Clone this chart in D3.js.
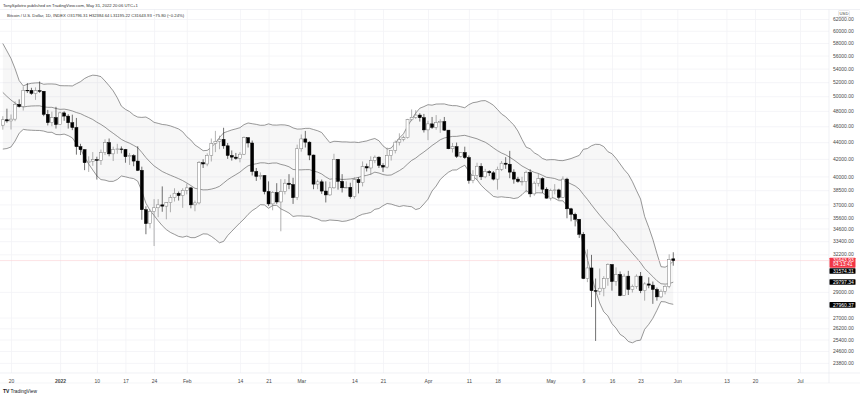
<!DOCTYPE html>
<html>
<head>
<meta charset="utf-8">
<script src="https://cdn.jsdelivr.net/npm/d3@7"></script>
<style>
  body { margin: 0; background: #fff; }
  svg { display: block; font-family: "Liberation Sans", Arial, sans-serif; }
</style>
</head>
<body>
<div id="chart"></div>
<script>
// daily candles start here, one per day
const firstDay = '2021-12-18';

// closes before the first visible candle, only used for the bands
const priorCloses = [57806, 56950, 57184, 56480, 53601, 49152, 49397, 50441, 50588, 50471,
  47545, 47140, 49389, 50053, 46702, 48343, 48864, 47632, 46131];

const opens = [
  // Dec 18-31
  46131, 46834, 46681, 46914, 48890, 48588, 50838, 50820, 50399, 50775, 50701, 47543, 46464, 47120,
  // Jan
  46216, 47738, 47311, 46446, 45832, 43451, 43082, 41558, 41734, 41912, 41822, 42735, 43949, 42591, 43099, 43177,
  43113, 42250, 42375, 41744, 40680, 36457, 35075, 36276, 36654, 36954, 36822, 37185, 37716, 38170, 37917,
  // Feb
  38480, 38743, 36952, 37154, 41554, 41406, 42407, 43850, 44092, 44346, 43555, 42400, 42205, 42054, 42550, 44550,
  43900, 40550, 40000, 40100, 38350, 37050, 38250, 37250, 38350, 39250, 39100, 37700,
  // Mar
  43200, 44400, 44000, 42450, 39150, 39400, 38400, 37990, 38750, 41950, 39450, 38750, 38800, 37800, 39650, 39300,
  41100, 40950, 41800, 42200, 41250, 41050, 42400, 43000, 44000, 44350, 44550, 46850, 47150, 47450, 47100,
  // Apr
  45530, 46300, 45850, 46450, 46600, 45500, 43200, 43450, 42300, 42750, 42150, 39550, 40100, 41150, 39950, 40550,
  40400, 39700, 40800, 41500, 41380, 40480, 39700, 39450, 39450, 40450, 38100, 39250, 39750, 38600,
  // May
  37650, 38470, 38520, 37730, 39700, 36550, 36000, 35500, 34050, 30100, 31000, 29100, 29050, 29300, 30100, 31300,
  29850, 30450, 28700, 30300, 29200, 29450, 30300, 29100, 29650, 29550, 29200, 28600, 29050, 29450, 31796.31
];
const highs = [
  47300, 48300, 47530, 49300, 49570, 51380, 51850, 51190, 51250, 52100, 50700, 48140, 47900, 48550,
  47900, 47950, 47560, 47500, 47070, 43800, 43150, 42300, 42800, 42250, 43100, 44350, 44450, 43450, 43800, 43480,
  43180, 42700, 42550, 43500, 41100, 36800, 36500, 37550, 37550, 38900, 37200, 38000, 38700, 38350, 38700,
  39200, 38850, 37400, 41750, 41950, 42650, 44450, 45400, 44800, 45800, 43900, 43000, 42700, 42800, 44700, 44600,
  44200, 40950, 40450, 40150, 39450, 38400, 39250, 39700, 39700, 40250, 39850, 43700,
  44950, 45400, 44100, 42500, 39650, 39650, 39450, 39400, 42600, 42000, 40250, 39450, 39300, 39900, 39900, 41700,
  41450, 42300, 42400, 42300, 41500, 43350, 43000, 44200, 45100, 44800, 46950, 48200, 48100, 47700, 47600,
  46700, 47200, 47450, 46900, 47200, 45500, 43900, 43950, 42800, 43450, 42400, 40700, 41550, 41500, 40850, 40700,
  40600, 41100, 41750, 42200, 42950, 40800, 39950, 39950, 40650, 40800, 39450, 40350, 39900, 38800,
  38650, 39150, 38650, 40000, 39850, 36650, 36150, 35500, 34250, 32650, 32150, 30100, 30950, 30300, 31400, 31300,
  31050, 30700, 30500, 30750, 29600, 30450, 30650, 29800, 30200, 29850, 29350, 29200, 29550, 32200, 32384.64
];
const lows = [
  45560, 46450, 45580, 46650, 48450, 48050, 50450, 50200, 49500, 50470, 47300, 46100, 46000, 45700,
  46200, 46700, 45700, 45500, 42500, 42450, 40700, 40500, 41200, 39650, 41300, 42450, 42300, 41750, 42600, 42650,
  41550, 41300, 41150, 40600, 35450, 34050, 34620, 32950, 35700, 36250, 35500, 36200, 37300, 37400, 36650,
  38050, 36600, 36300, 37000, 40950, 41150, 41700, 42800, 43150, 43200, 42000, 41800, 41900, 41600, 42450, 43350,
  40100, 39500, 39650, 38050, 36850, 36400, 37050, 34330, 38050, 38600, 37050, 37450,
  42850, 43350, 41850, 38600, 38600, 38100, 37200, 37900, 38650, 38550, 38250, 38700, 37600, 37600, 38150, 38900,
  40550, 40150, 41500, 40950, 40500, 40900, 41800, 42650, 43600, 44100, 44450, 46650, 46950, 46600, 45200,
  44250, 45650, 45550, 45150, 45400, 43150, 42750, 42100, 42150, 42000, 39200, 39250, 39600, 39600, 39800, 40050,
  39550, 38550, 40600, 40850, 39800, 39200, 39300, 39000, 38250, 37750, 37900, 38900, 38200, 37600,
  37400, 38050, 37500, 37700, 35600, 35300, 34800, 33700, 30050, 29800, 27800, 25300, 28750, 28650, 29500, 29100,
  29500, 28650, 28700, 28750, 28950, 29250, 28900, 28300, 29300, 28050, 28300, 28500, 28800, 29300, 31195.22
];
const closes = [
  46834, 46681, 46914, 48890, 48588, 50838, 50820, 50399, 50775, 50701, 47543, 46464, 47120, 46216,
  47738, 47311, 46446, 45832, 43451, 43082, 41558, 41734, 41912, 41822, 42735, 43949, 42591, 43099, 43177, 43113,
  42250, 42375, 41744, 40680, 36457, 35075, 36276, 36654, 36954, 36822, 37185, 37716, 38170, 37917, 38480,
  38743, 36952, 37154, 41554, 41406, 42407, 43850, 44092, 44346, 43555, 42400, 42205, 42054, 42550, 44550, 43900,
  40550, 40000, 40100, 38350, 37050, 38250, 37250, 38350, 39250, 39100, 37700, 43200,
  44400, 44000, 42450, 39150, 39400, 38400, 37990, 38750, 41950, 39450, 38750, 38800, 37800, 39650, 39300, 41100,
  40950, 41800, 42200, 41250, 41050, 42400, 43000, 44000, 44350, 44550, 46850, 47150, 47450, 47100, 45530,
  46300, 45850, 46450, 46600, 45500, 43200, 43450, 42300, 42750, 42150, 39550, 40100, 41150, 39950, 40550, 40400,
  39700, 40800, 41500, 41380, 40480, 39700, 39450, 39450, 40450, 38100, 39250, 39750, 38600, 37650,
  38470, 38520, 37730, 39700, 36550, 36000, 35500, 34050, 30100, 31000, 29100, 29050, 29300, 30100, 31300, 29850,
  30450, 28700, 30300, 29200, 29450, 30300, 29100, 29650, 29550, 29200, 28600, 29050, 29450, 31719.73, 31643.93
];

const priceTicks = [62000, 60000, 58000, 56000, 54000, 52000, 50000, 48000, 46000, 44000, 42000, 40000,
  38500, 37000, 35600, 34600, 33400, 32200, 29000, 27000, 26200, 25400, 24600, 23800];
const dateTicks = ['2021-12-20', '2022-01-01', '2022-01-10', '2022-01-17', '2022-01-24', '2022-02-01',
  '2022-02-14', '2022-02-21', '2022-03-01', '2022-03-14', '2022-03-21', '2022-04-01', '2022-04-11',
  '2022-04-18', '2022-05-01', '2022-05-09', '2022-05-16', '2022-05-23', '2022-06-01', '2022-06-13',
  '2022-06-20', '2022-07-01'];
const dateLabels = ['20', '2022', '10', '17', '24', 'Feb', '14', '21', 'Mar', '14', '21', 'Apr', '11',
  '18', 'May', '9', '16', '23', 'Jun', '13', '20', 'Jul'];

const lastPrice = 31643.93;
const countdown = '04:13:41';
const bandValues = [31574.31, 29797.34, 27960.37]; // upper, basis, lower as printed on the axis

const headerLine = 'TonySpilotro published on TradingView.com, May 31, 2022 20:06 UTC+1';
const legendLine = 'Bitcoin / U.S. Dollar, 1D, INDEX  O31796.31 H32384.64 L31195.22 C31643.93 \u221275.80 (\u22120.24%)';

const W = 860, H = 395;
const plot = { left: 0, right: 829, top: 9.5, bottom: 373 };

const parse = d3.utcParse('%Y-%m-%d');
const day0 = parse(firstDay);
const candles = closes.map((c, i) => ({
  date: d3.utcDay.offset(day0, i),
  o: opens[i], h: highs[i], l: lows[i], c: c
}));

// bollinger bands 20, 2
const allCloses = priorCloses.concat(closes);
const bands = candles.map((d, i) => {
  const end = i + priorCloses.length + 1;
  const win = allCloses.slice(end - 20, end);
  const m = d3.mean(win);
  const sd = Math.sqrt(d3.mean(win, v => (v - m) * (v - m)));
  return { date: d.date, mid: m, up: m + 2 * sd, lo: m - 2 * sd };
});

const x = d3.scaleUtc()
  .domain([parse('2021-12-20'), parse('2022-07-01')])
  .range([11, 800]);
const y = d3.scaleLog()
  .domain([24600, 62000])
  .range([351, 19]);

const svg = d3.select('#chart').append('svg')
  .attr('width', W)
  .attr('height', H);

svg.append('defs').append('clipPath').attr('id', 'plotclip')
  .append('rect')
  .attr('x', plot.left).attr('y', plot.top)
  .attr('width', plot.right - plot.left).attr('height', plot.bottom - plot.top);

// grid
const grid = svg.append('g');
grid.append('g')
  .attr('transform', `translate(${plot.right},0)`)
  .call(d3.axisLeft(y).tickValues(priceTicks).tickSize(plot.right - plot.left).tickFormat(''))
  .call(g => g.select('.domain').remove())
  .call(g => g.selectAll('line').attr('stroke', '#f2f3f6').attr('stroke-width', 0.8));
grid.append('g')
  .attr('transform', `translate(0,${plot.bottom})`)
  .call(d3.axisTop(x).tickValues(dateTicks.map(parse)).tickSize(plot.bottom - plot.top).tickFormat(''))
  .call(g => g.select('.domain').remove())
  .call(g => g.selectAll('line').attr('stroke', '#f2f3f6').attr('stroke-width', 0.8));

const chart = svg.append('g').attr('clip-path', 'url(#plotclip)');

// band fill and lines
chart.append('path')
  .datum(bands)
  .attr('fill', 'rgba(0,0,0,0.03)')
  .attr('d', d3.area().x(d => x(d.date)).y0(d => y(d.lo)).y1(d => y(d.up)));
['up', 'mid', 'lo'].forEach(k => {
  chart.append('path')
    .datum(bands)
    .attr('fill', 'none')
    .attr('stroke', '#6b6b6b')
    .attr('stroke-width', 0.7)
    .attr('d', d3.line().x(d => x(d.date)).y(d => y(d[k])));
});

// last price line
chart.append('line')
  .attr('x1', plot.left).attr('x2', plot.right)
  .attr('y1', y(lastPrice)).attr('y2', y(lastPrice))
  .attr('stroke', '#fbd0d3')
  .attr('stroke-width', 0.6);

// candles
const bw = 3;
const c = chart.append('g').selectAll('g')
  .data(candles)
  .join('g');
c.append('line')
  .attr('x1', d => x(d.date)).attr('x2', d => x(d.date))
  .attr('y1', d => y(d.h)).attr('y2', d => y(d.l))
  .attr('stroke', d => d.c >= d.o ? '#7d7d7d' : '#111')
  .attr('stroke-width', 0.6);
c.append('rect')
  .attr('x', d => x(d.date) - bw / 2)
  .attr('width', bw)
  .attr('y', d => y(Math.max(d.o, d.c)))
  .attr('height', d => Math.max(0.6, Math.abs(y(d.o) - y(d.c))))
  .attr('fill', d => d.c >= d.o ? '#fff' : '#000')
  .attr('stroke', d => d.c >= d.o ? '#7d7d7d' : '#000')
  .attr('stroke-width', 0.5);

// frame lines
svg.append('line').attr('x1', 0).attr('x2', W).attr('y1', plot.top).attr('y2', plot.top)
  .attr('stroke', '#e6e8ee').attr('stroke-width', 0.6);
svg.append('line').attr('x1', 0).attr('x2', W).attr('y1', plot.bottom).attr('y2', plot.bottom)
  .attr('stroke', '#e6e8ee').attr('stroke-width', 0.6);
svg.append('line').attr('x1', 0).attr('x2', W).attr('y1', 383).attr('y2', 383)
  .attr('stroke', '#eceef2').attr('stroke-width', 0.6);
svg.append('line').attr('x1', plot.right).attr('x2', plot.right).attr('y1', plot.top).attr('y2', 383)
  .attr('stroke', '#e6e8ee').attr('stroke-width', 0.6);

// price axis
svg.append('g')
  .attr('transform', `translate(${plot.right},0)`)
  .call(d3.axisRight(y).tickValues(priceTicks).tickSize(0).tickPadding(4).tickFormat(d3.format('.2f')))
  .call(g => g.select('.domain').remove())
  .call(g => g.selectAll('text')
    .attr('font-size', 5)
    .attr('font-family', '"Liberation Sans", Arial, sans-serif')
    .attr('fill', '#4a4a4a'));

// USD badge
svg.append('rect').attr('x', 838.5).attr('y', 10.5).attr('width', 11).attr('height', 6)
  .attr('fill', '#fff').attr('stroke', '#d0d3da').attr('stroke-width', 0.5).attr('rx', 1);
svg.append('text').attr('x', 844).attr('y', 15.2).attr('text-anchor', 'middle')
  .attr('font-size', 4.2).attr('fill', '#444').text('USD');

// axis price labels: red last price then the band values, pushed down if they overlap
const tags = [{ v: lastPrice, fill: '#f23645', lines: [d3.format('.2f')(lastPrice), countdown], h: 10 }]
  .concat(bandValues.map(v => ({ v: v, fill: '#000', lines: [d3.format('.2f')(v)], h: 5.6 })));
let prevBottom = -Infinity;
tags.forEach(t => {
  t.top = Math.max(y(t.v) - 2.9, prevBottom + 0.6);
  prevBottom = t.top + t.h;
  const g = svg.append('g');
  g.append('rect').attr('x', plot.right + 0.5).attr('y', t.top).attr('width', 26).attr('height', t.h)
    .attr('fill', t.fill).attr('rx', 0.6);
  t.lines.forEach((s, i) => {
    g.append('text').attr('x', plot.right + 4).attr('y', t.top + 4.4 + i * 4.4)
      .attr('font-size', 5).attr('fill', '#fff').text(s);
  });
});

// time axis
svg.append('g')
  .attr('transform', `translate(0,${plot.bottom})`)
  .call(d3.axisBottom(x).tickValues(dateTicks.map(parse)).tickSize(0).tickPadding(6.5)
    .tickFormat((d, i) => dateLabels[i]))
  .call(g => g.select('.domain').remove())
  .call(g => g.selectAll('text')
    .attr('font-size', 5)
    .attr('font-family', '"Liberation Sans", Arial, sans-serif')
    .attr('fill', '#4a4a4a')
    .attr('font-weight', (d, i) => dateLabels[i] === '2022' ? 'bold' : null));

// header texts
svg.append('text').attr('x', 3).attr('y', 6.5).attr('font-size', 4.2).attr('fill', '#333').text(headerLine);
svg.append('text').attr('x', 7).attr('y', 16.6).attr('font-size', 4.2).attr('fill', '#333').text(legendLine);

// TradingView mark
svg.append('text').attr('x', 3).attr('y', 392.5).attr('font-size', 5).attr('font-weight', 'bold')
  .attr('fill', '#131722').text('TV');
svg.append('text').attr('x', 10.5).attr('y', 392.5).attr('font-size', 4.8)
  .attr('fill', '#131722').text('TradingView');
</script>
</body>
</html>
